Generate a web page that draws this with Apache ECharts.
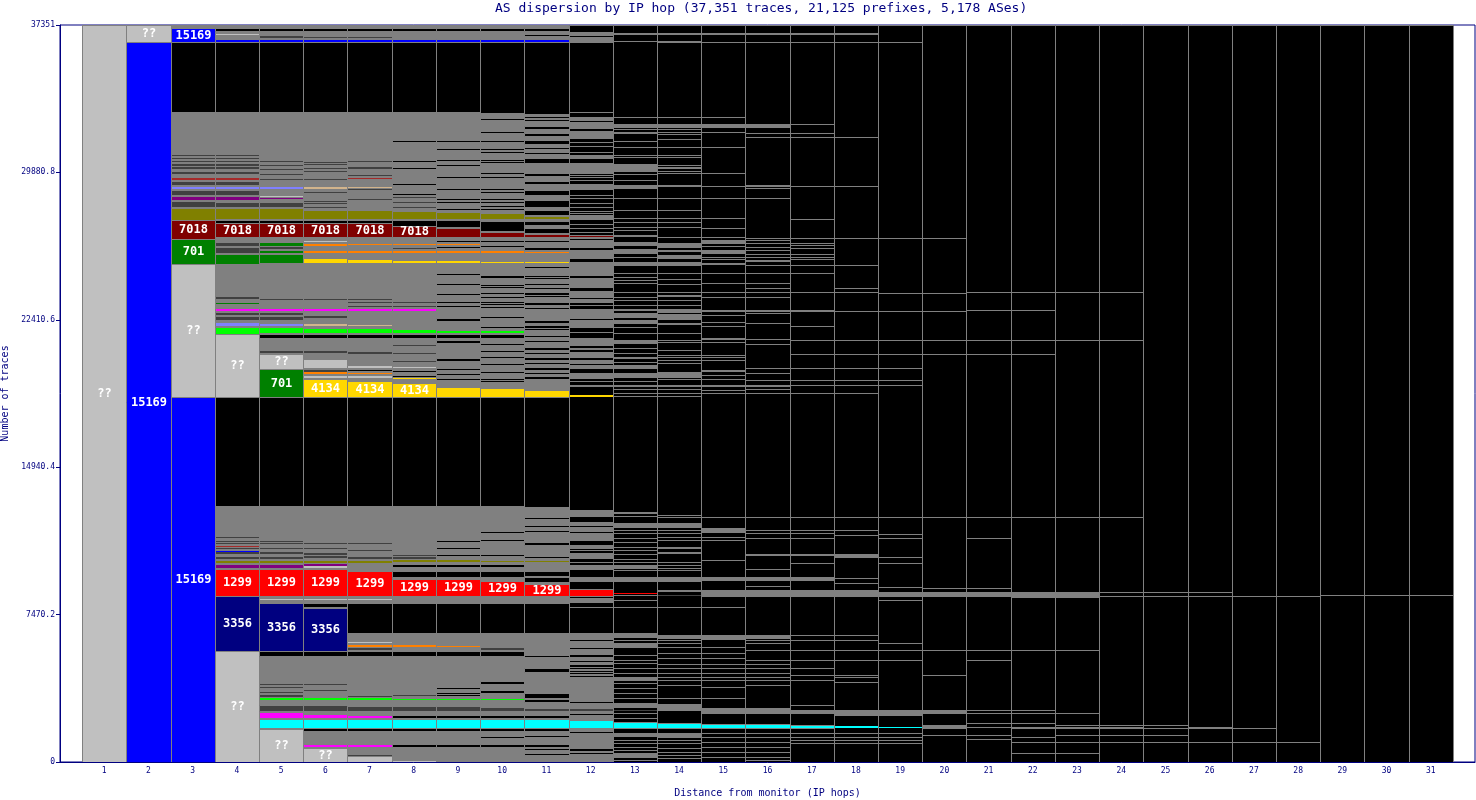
<!DOCTYPE html>
<html>
<head>
<meta charset="utf-8">
<title>AS dispersion by IP hop</title>
<script src="https://cdn.jsdelivr.net/npm/echarts@6/dist/echarts.min.js"></script>
<style>
  html, body { margin: 0; padding: 0; background: #fff; }
  #chart { width: 1476px; height: 800px; }
</style>
</head>
<body>
<div id="chart"></div>
<script>
// total traces, hop categories
const totalTraces = 37351;
const hops = [1, 2, 3, 4, 5, 6, 7, 8, 9, 10, 11, 12, 13, 14, 15, 16, 17, 18, 19, 20, 21, 22, 23, 24, 25, 26, 27, 28, 29, 30, 31];

// ASes that get a text label when their block is tall enough
const namedAs = ['??', '15169', '7018', '701', '1299', '3356', '4134'];

const groupColors = {
  '??': '#c0c0c0',
  '15169': '#0000ff',
  '7018': '#800000',
  '701': '#008000',
  '1299': '#ff0000',
  '3356': '#000080',
  '4134': '#ffd700',
  many: '#808080',
  dark: '#404040',
  end: '#000000',
  olive: '#808000',
  purple: '#800080',
  lime: '#00ff00',
  cyan: '#00ffff',
  magenta: '#ff00ff',
  orange: '#ff8000',
  peri: '#8080ff',
  tan: '#d2b48c',
  brown: '#a52a2a',
};

// per hop: [from traces, to traces, group]
const hop01 = [[0, 37351, '??']];
const hop02 = [[0, 36490, '15169'], [36490, 37351, '??']];
const hop03 = [
  [0, 18500, '15169'], [18500, 25240, '??'], [25240, 26500, '701'], [26500, 27470, '7018'], [27470, 28080, 'olive'],
  [28080, 32940, 'many'],
  [28140, 28450, 'dark'], [28480, 28690, 'purple'], [28740, 28990, 'dark'], [29040, 29190, 'peri'], [29240, 29460, 'dark'],
  [29500, 29650, 'brown'], [29800, 29970, 'dark'], [30050, 30150, 'dark'], [30200, 30300, 'dark'], [30410, 30460, 'dark'],
  [30560, 30610, 'dark'], [30710, 30760, 'dark'],
  [36490, 37200, '15169'], [37200, 37351, 'many'],
];
const hop04 = [
  [0, 5640, '??'], [5640, 8430, '3356'], [8430, 9780, '1299'],
  [9780, 12970, 'many'],
  [9830, 10030, 'purple'], [10090, 10250, 'olive'], [10300, 10440, 'dark'], [10540, 10640, 'dark'], [10670, 10710, '15169'],
  [10790, 10850, 'dark'], [10920, 10970, 'brown'], [11050, 11100, 'dark'], [11190, 11220, 'dark'], [11350, 11380, 'dark'],
  [18500, 21690, '??'],
  [21690, 25240, 'many'],
  [21690, 22060, 'lime'], [22110, 22300, 'peri'], [22400, 22600, 'dark'], [22650, 22810, 'dark'], [22880, 22940, 'magenta'],
  [23190, 23240, '701'], [23460, 23620, 'dark'],
  [25240, 25740, '701'],
  [25740, 32940, 'many'],
  [25810, 26110, 'dark'], [26160, 26370, 'dark'], [26590, 27330, '7018'], [27330, 27470, 'end'], [27520, 28090, 'olive'],
  [28140, 28400, 'dark'], [28480, 28690, 'purple'], [28740, 28990, 'dark'], [29040, 29190, 'peri'], [29240, 29440, 'dark'],
  [29500, 29650, 'brown'], [29800, 29970, 'dark'], [30050, 30150, 'dark'], [30200, 30300, 'dark'], [30410, 30460, 'dark'],
  [30560, 30610, 'dark'], [30710, 30760, 'dark'],
  [36490, 37351, 'many'], [36490, 36640, '15169'], [36860, 36910, '??'], [37060, 37200, 'end'],
];
const hop05 = [
  [0, 1670, '??'],
  [1670, 5380, 'many'],
  [1720, 2180, 'cyan'], [2250, 2530, 'magenta'], [2600, 2890, 'dark'], [3140, 3260, 'lime'], [3310, 3380, 'dark'],
  [3500, 3560, 'dark'], [3750, 3800, 'dark'], [3900, 3950, 'dark'],
  [5380, 5640, 'end'], [5640, 8060, '3356'],
  [8060, 12970, 'many'],
  [8200, 8250, '??'], [8430, 9780, '1299'], [9830, 10030, 'purple'], [10090, 10250, 'olive'], [10300, 10440, 'dark'],
  [10540, 10640, 'dark'], [10790, 10850, 'dark'], [11050, 11100, 'dark'], [11190, 11220, 'dark'],
  [18500, 19930, '701'], [19930, 20680, '??'],
  [20680, 25240, 'many'],
  [20730, 20830, 'dark'], [21500, 21700, 'end'], [21740, 22060, 'lime'], [22120, 22270, 'peri'], [22400, 22600, 'dark'],
  [22650, 22810, 'dark'], [22880, 22940, 'magenta'], [23440, 23490, 'dark'],
  [25240, 32940, 'many'],
  [25270, 25750, '701'], [25810, 25950, '701'], [26000, 26110, 'dark'], [26160, 26370, '701'], [26590, 27330, '7018'],
  [27330, 27470, 'end'], [27520, 28090, 'olive'], [28140, 28400, 'dark'], [28550, 28600, 'purple'], [28630, 28680, '??'],
  [29040, 29190, 'peri'], [29500, 29550, 'dark'], [29750, 29800, 'dark'], [30000, 30050, 'dark'], [30200, 30250, 'dark'],
  [30410, 30460, 'dark'],
  [36490, 37351, 'many'], [36490, 36640, '15169'], [36710, 36810, 'dark'], [37060, 37200, 'end'],
];
const hop06 = [
  [0, 730, '??'],
  [730, 5380, 'many'],
  [760, 910, 'magenta'], [1590, 1670, 'end'], [1720, 2180, 'cyan'], [2250, 2450, 'magenta'], [2600, 2890, 'dark'],
  [3140, 3260, 'lime'], [3600, 3650, 'dark'], [3900, 3950, 'dark'],
  [5380, 5640, 'end'], [5640, 7820, '3356'], [7840, 8060, 'end'],
  [8060, 12970, 'many'],
  [8200, 8270, '??'], [8430, 9780, '1299'], [9850, 9920, '??'], [9950, 10030, 'purple'], [10090, 10250, 'olive'],
  [10340, 10440, 'dark'], [10500, 10600, 'dark'], [10790, 10850, 'dark'], [11050, 11100, 'dark'],
  [18500, 19410, '4134'],
  [19410, 25240, 'many'],
  [19460, 19610, '??'], [19660, 19750, 'orange'], [19760, 19870, 'dark'], [19970, 20430, '??'], [20730, 20830, 'dark'],
  [21500, 21700, 'end'], [21740, 22010, 'lime'], [22100, 22200, 'tan'], [22510, 22580, 'dark'], [22880, 22940, 'magenta'],
  [23440, 23490, 'dark'],
  [25240, 32940, 'many'],
  [25270, 25540, '4134'], [25810, 25950, 'orange'], [26150, 26250, 'orange'], [26340, 26390, '??'], [26590, 27330, '7018'],
  [27330, 27470, 'end'], [27520, 27980, 'olive'], [28110, 28140, 'dark'], [28270, 28310, 'dark'], [28400, 28450, 'dark'],
  [28850, 28900, 'dark'], [29040, 29140, 'tan'], [29500, 29550, 'dark'], [29890, 29940, 'dark'], [30060, 30110, 'dark'],
  [30250, 30300, 'dark'], [30370, 30420, 'dark'],
  [36490, 37351, 'many'], [36490, 36640, '15169'], [36700, 36760, 'dark'], [37060, 37200, 'end'],
];
const hop07 = [
  [0, 320, '??'], [320, 400, 'dark'],
  [400, 5380, 'many'],
  [760, 910, 'magenta'], [1590, 1670, 'end'], [1720, 2180, 'cyan'], [2250, 2380, 'magenta'], [2600, 2840, 'dark'],
  [3140, 3260, 'lime'], [3300, 3350, 'dark'],
  [5380, 5640, 'end'],
  [5640, 6520, 'many'],
  [5680, 5790, 'dark'], [5830, 6000, 'orange'], [6050, 6100, '??'],
  [8060, 12970, 'many'],
  [8200, 8250, '??'], [8430, 9700, '1299'], [10090, 10250, 'olive'], [10300, 10390, 'dark'], [10690, 10740, 'dark'],
  [11050, 11100, 'dark'],
  [18500, 19310, '4134'],
  [19310, 25240, 'many'],
  [19460, 19560, '??'], [19660, 19730, 'orange'], [19810, 19870, 'end'], [19980, 20120, '??'], [20680, 20830, 'dark'],
  [21500, 21700, 'end'], [21740, 22010, 'lime'], [22100, 22150, 'tan'], [22880, 22940, 'magenta'], [23060, 23110, 'dark'],
  [23260, 23310, 'dark'], [23410, 23460, 'dark'],
  [25240, 32940, 'many'],
  [25270, 25490, '4134'], [25810, 25950, 'orange'], [26200, 26250, 'orange'], [26590, 27330, '7018'], [27330, 27470, 'end'],
  [27520, 27980, 'olive'], [28480, 28530, 'dark'], [28990, 29040, 'dark'], [29070, 29140, 'tan'], [29550, 29600, 'brown'],
  [29700, 29750, 'dark'], [30060, 30170, 'dark'], [30400, 30450, 'dark'],
  [36490, 37351, 'many'], [36490, 36640, '15169'], [36700, 36760, 'dark'], [37060, 37200, 'end'],
];
const hop08 = [
  [0, 100, '??'],
  [100, 5380, 'many'],
  [760, 910, 'end'], [1590, 1670, 'end'], [1720, 2180, 'cyan'], [2250, 2380, 'end'], [2600, 2840, 'dark'],
  [3140, 3190, 'lime'], [3330, 3380, 'dark'],
  [5380, 5640, 'end'],
  [5640, 6520, 'many'],
  [5830, 5930, 'orange'],
  [8060, 12970, 'many'],
  [8430, 9270, '1299'], [9390, 9680, 'end'], [9900, 9980, 'end'], [10120, 10220, 'olive'], [10300, 10390, 'dark'],
  [10440, 10490, 'dark'],
  [18500, 19220, '4134'],
  [19220, 25240, 'many'],
  [19410, 19460, '4134'], [19510, 19560, 'end'], [19760, 19810, 'end'], [19990, 20040, '??'], [20280, 20330, 'dark'],
  [20680, 20730, 'dark'], [21070, 21120, 'dark'], [21500, 21700, 'end'], [21740, 21960, 'lime'], [22880, 22940, 'magenta'],
  [23060, 23110, 'dark'], [23260, 23310, 'dark'],
  [25240, 32940, 'many'],
  [25270, 25440, '4134'], [25810, 25910, 'orange'], [26000, 26050, 'dark'], [26200, 26250, 'orange'], [26590, 27180, '7018'],
  [27180, 27470, 'end'], [27520, 27920, 'olive'], [28080, 28130, 'dark'], [28330, 28380, 'dark'], [28580, 28630, 'dark'],
  [28720, 28770, 'end'], [29250, 29300, 'end'], [30060, 30110, 'end'], [30410, 30460, 'end'], [31410, 31460, 'end'],
  [36490, 37351, 'many'], [36490, 36640, '15169'], [37060, 37200, 'end'],
];
const hop09 = [
  [0, 5380, 'many'],
  [760, 910, 'end'], [1590, 1670, 'end'], [1720, 2180, 'cyan'], [2250, 2380, 'end'], [2600, 2840, 'dark'],
  [3140, 3190, 'lime'], [3330, 3380, 'end'], [3450, 3500, 'end'], [3700, 3750, 'end'],
  [5380, 5640, 'end'],
  [5640, 6520, 'many'],
  [5830, 5900, 'orange'],
  [8060, 12970, 'many'],
  [8430, 9270, '1299'], [9390, 9680, 'end'], [9900, 9980, 'end'], [10120, 10220, 'olive'], [10440, 10490, 'end'],
  [10790, 10840, 'end'], [11150, 11200, 'end'],
  [18500, 19020, '4134'],
  [19020, 25240, 'many'],
  [19360, 19410, 'end'], [19610, 19660, 'end'], [19860, 19910, 'end'], [20330, 20480, 'end'], [21250, 21380, 'end'],
  [21500, 21700, 'end'], [21740, 21880, 'lime'], [22350, 22500, 'end'], [23060, 23110, 'end'], [23260, 23310, 'end'],
  [23670, 23720, 'end'], [24200, 24250, 'end'], [24700, 24750, 'end'],
  [25240, 32940, 'many'],
  [25270, 25390, '4134'], [25810, 25910, 'orange'], [26050, 26100, 'end'], [26200, 26250, 'orange'], [26350, 26400, 'end'],
  [26590, 27080, '7018'], [27110, 27470, 'end'], [27520, 27890, 'olive'], [27980, 28030, 'end'], [28330, 28380, 'end'],
  [28480, 28530, 'end'], [29000, 29050, 'end'], [29600, 29650, 'end'], [30200, 30250, 'end'], [30460, 30510, 'end'],
  [31040, 31090, 'end'], [31440, 31490, 'end'],
  [36490, 37351, 'many'], [36490, 36640, '15169'], [37060, 37200, 'end'],
];
const hop10 = [
  [0, 5380, 'many'],
  [760, 910, 'end'], [1230, 1280, 'end'], [1590, 1670, 'end'], [1720, 2180, 'cyan'], [2250, 2380, 'end'],
  [2600, 2790, 'dark'], [3140, 3190, 'lime'], [3500, 3650, 'end'], [3950, 4100, 'end'],
  [5380, 5640, 'end'],
  [5640, 6520, 'many'],
  [5680, 5760, 'dark'],
  [8060, 12970, 'many'],
  [8430, 9170, '1299'], [9390, 9680, 'end'], [9900, 9980, 'end'], [10120, 10200, 'olive'], [10440, 10490, 'end'],
  [11190, 11240, 'end'], [11610, 11660, 'end'],
  [18500, 18970, '4134'],
  [18970, 25240, 'many'],
  [19270, 19310, 'end'], [19360, 19410, 'end'], [19700, 19750, 'end'], [20120, 20170, 'end'], [20470, 20520, 'end'],
  [20790, 20840, 'end'], [21130, 21180, 'end'], [21500, 21700, 'end'], [21740, 21840, 'lime'], [22000, 22050, 'end'],
  [22500, 22550, 'end'], [22990, 23040, 'end'], [23140, 23190, 'end'], [23280, 23330, 'end'], [23500, 23550, 'end'],
  [23700, 23770, 'end'], [24010, 24060, 'end'], [24120, 24170, 'end'], [24520, 24570, 'end'], [24600, 24650, 'end'],
  [25240, 32940, 'many'],
  [25270, 25360, '4134'], [25810, 25880, 'orange'], [26110, 26160, 'end'], [26370, 26420, 'end'], [26590, 26880, '7018'],
  [26930, 27440, 'end'], [27520, 27810, 'olive'], [27980, 28030, 'end'], [28150, 28200, 'end'], [28310, 28360, 'end'],
  [28480, 28530, 'end'], [28820, 28870, 'end'], [28990, 29040, 'end'], [29580, 29630, 'end'], [29780, 29830, 'end'],
  [30340, 30390, 'end'], [30460, 30510, 'end'], [30850, 30900, 'end'], [31020, 31070, 'end'], [31440, 31490, 'end'],
  [31860, 31910, 'end'], [32540, 32590, 'end'], [32880, 32930, 'end'],
  [36490, 37351, 'many'], [36490, 36640, '15169'], [37060, 37200, 'end'],
];
const hop11 = [
  [0, 5410, 'many'],
  [350, 400, 'end'], [610, 660, 'end'], [760, 910, 'end'], [1250, 1300, 'end'], [1590, 1670, 'end'], [1720, 2180, 'cyan'],
  [2250, 2380, 'end'], [2600, 2700, 'dark'], [3060, 3190, 'end'], [3260, 3510, 'end'], [4580, 4750, 'end'], [5330, 5410, 'end'],
  [5410, 6520, 'many'],
  [8060, 12920, 'many'],
  [8430, 9040, '1299'], [9140, 9380, 'end'], [9420, 9680, 'end'], [10120, 10200, 'olive'], [10320, 10400, 'end'],
  [11000, 11160, 'end'], [11670, 11720, 'end'], [11930, 11980, 'end'], [12320, 12370, 'end'],
  [18500, 18850, '4134'],
  [18850, 25240, 'many'],
  [19410, 19530, 'end'], [19680, 19720, 'end'], [19870, 19970, 'end'], [20190, 20230, 'end'], [20370, 20460, 'end'],
  [20690, 20730, 'end'], [20880, 21050, 'end'], [21280, 21320, 'end'], [21540, 21580, 'end'], [21880, 21920, 'end'],
  [22010, 22100, 'end'], [22230, 22400, 'end'], [22970, 23010, 'end'], [23160, 23330, 'end'], [23560, 23600, 'end'],
  [23670, 23750, 'end'], [23990, 24030, 'end'], [24170, 24250, 'end'], [24490, 24530, 'end'], [24570, 24650, 'end'],
  [25050, 25090, 'end'],
  [25240, 32840, 'many'],
  [25270, 25340, '4134'], [25810, 25860, 'orange'], [25950, 26120, 'end'], [26350, 26390, 'end'], [26590, 26720, '7018'],
  [26790, 27050, 'end'], [27210, 27440, 'end'], [27520, 27600, 'olive'], [27720, 27980, 'end'], [28140, 28480, 'end'],
  [28740, 28990, 'end'], [29300, 29400, 'end'], [29700, 29800, 'end'], [30340, 30590, 'end'], [30800, 30850, 'end'],
  [31050, 31100, 'end'], [31300, 31520, 'end'], [31750, 31900, 'end'], [32100, 32250, 'end'], [32500, 32550, 'end'],
  [32650, 32700, 'end'],
  [36490, 37351, 'many'], [36490, 36640, '15169'], [36800, 36850, 'end'], [37060, 37200, 'end'],
];
const hop12 = [
  [0, 6520, 'many'],
  [410, 470, 'end'], [580, 640, 'end'], [920, 980, 'end'], [1090, 1140, 'end'], [1480, 1540, 'end'], [1710, 2130, 'cyan'],
  [2380, 2420, 'end'], [2600, 2690, 'dark'], [2980, 3040, 'end'], [3200, 3260, 'end'], [3450, 3510, 'end'], [3660, 3720, 'end'],
  [4290, 4350, 'end'], [4470, 4530, 'end'], [4550, 4610, 'end'], [4720, 4780, 'end'], [4830, 4910, 'end'], [5050, 5110, 'end'],
  [5340, 5400, 'end'], [5730, 5790, 'end'], [6150, 6200, 'end'],
  [8120, 8300, 'many'], [8430, 8770, '1299'], [9190, 9390, 'many'], [9770, 9980, 'many'], [10320, 10580, 'many'],
  [10830, 11000, 'many'], [11250, 11590, 'many'], [11720, 11930, 'many'], [12010, 12180, 'many'], [12470, 12770, 'many'],
  [18500, 18600, '4134'], [19020, 19110, 'many'], [19450, 19730, 'many'], [19950, 20120, 'many'], [20200, 20370, 'many'],
  [20540, 20790, 'many'], [20880, 20970, 'many'], [21130, 21470, 'many'], [21720, 21810, 'many'], [22060, 22400, 'many'],
  [22490, 22940, 'many'], [23330, 23450, 'many'], [23580, 23890, 'many'], [24090, 24510, 'many'], [24680, 25020, 'many'],
  [25100, 25360, 'many'], [25530, 25950, 'many'], [26110, 26460, 'many'], [26540, 26710, 'many'], [26600, 26650, '7018'],
  [27500, 27720, 'many'], [29030, 29290, 'many'], [29870, 30340, 'many'], [30590, 30760, 'many'], [30850, 30930, 'many'],
  [31150, 31220, 'many'], [31350, 31440, 'many'], [31610, 31860, 'many'], [31890, 31990, 'many'], [32120, 32450, 'many'],
  [32560, 32700, 'many'], [36470, 36630, 'many'],
];
const hop13 = [
  [36490, 36540, 'many'], [32200, 32330, 'many'], [30590, 30680, 'many'], [29970, 30310, 'many'], [29070, 29240, 'many'],
  [26590, 26710, 'many'], [26200, 26370, 'many'], [25780, 25990, 'many'], [25530, 25610, 'many'], [25190, 25360, 'many'],
  [22870, 22940, 'many'], [22570, 22740, 'many'], [22230, 22400, 'many'], [21220, 21390, 'many'], [19950, 20120, 'many'],
  [19500, 19730, 'many'], [19020, 19110, 'many'], [11930, 12100, 'many'], [9850, 9980, 'many'], [9190, 9390, 'many'],
  [8530, 8580, '1299'], [6350, 6520, 'many'], [5840, 6020, 'many'], [4160, 4320, 'many'], [2800, 2970, 'many'],
  [2620, 2660, 'dark'], [1710, 2040, 'cyan'], [1320, 1490, 'many'], [270, 440, 'many'],
];
const hop14 = [
  [36460, 36560, 'many'], [32200, 32330, 'many'], [29160, 29240, 'many'], [26570, 26620, 'many'], [26120, 26290, 'many'],
  [25860, 25950, 'many'], [25530, 25700, 'many'], [25190, 25360, 'many'], [24730, 24800, 'many'], [22820, 22940, 'many'],
  [22570, 22700, 'many'], [22400, 22480, 'many'], [22140, 22230, 'many'], [21220, 21300, 'many'], [19500, 19780, 'many'],
  [19020, 19110, 'many'], [18500, 18550, 'many'], [11930, 12100, 'many'], [9190, 9360, 'many'], [8620, 8720, 'many'],
  [8440, 8480, 'dark'], [6270, 6440, 'many'], [2640, 2940, 'many'], [1710, 1990, 'cyan'], [1280, 1490, 'many'],
];
const hop15 = [
  [32200, 32330, 'many'], [26570, 26620, 'many'], [26320, 26460, 'many'], [25780, 25950, 'many'], [25190, 25270, 'many'],
  [24730, 24800, 'many'], [23750, 23830, 'many'], [22820, 22910, 'many'], [21390, 21470, 'many'], [19780, 19870, 'many'],
  [19020, 19110, 'many'], [11670, 11840, 'many'], [9220, 9390, 'many'], [8400, 8720, 'many'], [6220, 6440, 'many'],
  [2470, 2720, 'many'], [1710, 1930, 'cyan'],
];
const hop16 = [
  [32200, 32330, 'many'], [29160, 29240, 'many'], [26250, 26320, 'many'], [25360, 25440, 'many'], [24730, 24800, 'many'],
  [23750, 23830, 'many'], [22820, 22910, 'many'], [19020, 19110, 'many'], [10440, 10540, 'many'], [9220, 9360, 'many'],
  [8400, 8720, 'many'], [6270, 6440, 'many'], [2470, 2720, 'many'], [1710, 1930, 'cyan'],
];
const hop17 = [
  [23750, 23830, 'many'], [22820, 22910, 'many'], [10440, 10540, 'many'], [9220, 9360, 'many'], [8400, 8720, 'many'],
  [2470, 2640, 'many'], [1710, 1880, 'cyan'],
];
const hop18 = [
  [23750, 23830, 'many'], [10400, 10540, 'many'], [8400, 8720, 'many'], [2380, 2640, 'many'], [1710, 1830, 'cyan'],
];
const hop19 = [[8800, 8880, 'many'], [8400, 8630, 'many'], [2380, 2640, 'many'], [1710, 1790, 'cyan']];
const hop20 = [[8400, 8630, 'many'], [2470, 2640, 'many'], [1710, 1880, 'many']];
const hop21 = [[8400, 8630, 'many']];
const hop22 = [[8380, 8630, 'many'], [1670, 1760, 'many']];
const hop23 = [[8380, 8630, 'many'], [1670, 1760, 'many']];
const hop24 = [[1670, 1760, 'many']];
const hop26 = [[1670, 1760, 'many']];

// single boundaries between small groups, per hop (traces)
const cut12 = [950, 1115, 3010, 3230, 3480, 3690, 7870, 10150, 10740, 19320, 23160, 26880, 27050, 27270, 27810, 27940,
  28140, 28310, 28570, 28740, 29500, 29630, 29750, 32930, 36710, 36760, 36850, 36900, 36930, 36980];
const cut13 = [36930, 36870, 32670, 32100, 31930, 31860, 31490, 31180, 30760, 29800, 29500, 28570, 27980, 27550, 27380,
  27130, 26960, 24800, 24590, 24430, 24290, 23830, 23580, 23420, 23160, 22060, 21720, 20970, 20710, 20540, 20460, 20290,
  19320, 18890, 18690, 18550, 12690, 12600, 12470, 11760, 11590, 11340, 11170, 10910, 10740, 10540, 10270, 10150, 9750,
  8460, 8210, 7870, 6180, 5420, 5170, 5000, 4780, 4530, 3990, 3740, 3480, 3230, 2470, 2210, 1110, 950, 780, 610, 100];
const cut14 = [36930, 36870, 32670, 32100, 31930, 31810, 31560, 31180, 30760, 30640, 30260, 30170, 30090, 29970, 29870,
  28570, 27980, 27550, 27380, 27130, 24460, 24220, 23830, 23670, 23620, 23420, 23160, 21720, 21390, 20880, 20630, 20540,
  20370, 20200, 19410, 18890, 18690, 12520, 12400, 11760, 11590, 11420, 11250, 10910, 10830, 10660, 10570, 10150, 9980,
  9850, 9730, 7870, 6180, 6020, 5840, 5510, 5260, 4970, 4750, 4530, 4320, 4160, 3900, 3230, 1110, 950, 690, 520, 350, 190];
const cut15 = [36930, 36870, 36490, 32670, 31930, 31150, 29830, 29190, 28570, 27550, 27080, 26150, 25610, 25480, 24290,
  23550, 22650, 22290, 22100, 21300, 20630, 20540, 20370, 19610, 19400, 18850, 18690, 12400, 11420, 11250, 10240, 7870,
  5840, 5510, 5260, 4970, 4750, 4530, 4320, 4160, 3820, 3230, 1490, 1280, 1030, 780, 520, 270];
const cut16 = [36930, 36870, 36490, 31860, 31660, 29070, 28570, 26540, 26460, 26120, 25950, 25740, 25610, 25190, 24290,
  24010, 23580, 23550, 22740, 22230, 21420, 21180, 19950, 19700, 19360, 18890, 18690, 12400, 11760, 11590, 11340, 9800,
  8920, 6180, 6020, 5680, 5170, 4970, 4750, 4530, 4320, 4160, 3900, 1450, 1280, 1030, 780, 520, 270, 100];
const cut17 = [36930, 36870, 36490, 32330, 31860, 31660, 29190, 27500, 26540, 26320, 26200, 26030, 25740, 25610, 25480,
  25190, 24800, 22100, 21390, 20680, 19950, 19360, 19110, 18690, 12400, 11760, 11590, 11340, 10070, 6440, 6180, 5680,
  5170, 4750, 4410, 4160, 2890, 1450, 1280, 1110, 950];
const cut18 = [36930, 36870, 36490, 31660, 29190, 26540, 25190, 24010, 22870, 21390, 20680, 19950, 19360, 19110, 18690,
  12400, 11760, 11500, 9310, 9060, 6440, 6180, 5680, 5170, 4410, 4320, 4070, 1450, 1280, 1110, 950];
const cut19 = [36490, 26540, 23780, 22870, 21390, 20680, 19950, 19360, 19110, 12400, 11550, 11340, 10400, 10100, 8210,
  6020, 5680, 5170, 1450, 1280, 1110, 950];
const cut20 = [26540, 23780, 22870, 21390, 20680, 12400, 8800, 5680, 4410, 1370];
const cut21 = [23800, 22890, 21370, 20670, 12400, 11340, 8800, 5680, 5170, 2640, 2470, 1960, 1790, 1370, 1150];
const cut22 = [23800, 22890, 21370, 20670, 12400, 5680, 2640, 2470, 1960, 1280, 1030, 440];
const cut23 = [23800, 21370, 12400, 5680, 2470, 1880, 1370, 1030, 440];
const cut24 = [23800, 21370, 12400, 8630, 8430, 1880, 1370, 1030];
const cut25 = [8630, 8430, 1880, 1710, 1370, 1030];
const cut26 = [8630, 8430, 1030];
const cut27 = [8430, 1710, 1030];
const cut28 = [8430, 1030];
const cut29 = [8460];
const cut30 = [8460];
const cut31 = [8460];

const blockSets = [hop01, hop02, hop03, hop04, hop05, hop06, hop07, hop08, hop09, hop10, hop11, hop12, hop13, hop14,
  hop15, hop16, hop17, hop18, hop19, hop20, hop21, hop22, hop23, hop24, [], hop26, [], [], [], [], []];
const cutSets = [[], [], [], [], [], [], [], [], [], [], [], cut12, cut13, cut14, cut15, cut16, cut17, cut18, cut19,
  cut20, cut21, cut22, cut23, cut24, cut25, cut26, cut27, cut28, cut29, cut30, cut31];

const rectData = [];
const rectGroups = [];
hops.forEach((hop, i) => {
  rectData.push([hop, 0, totalTraces]);
  rectGroups.push('end');
  blockSets[i].forEach(([lo, hi, g]) => {
    rectData.push([hop, lo, hi]);
    rectGroups.push(g);
  });
});
const cutData = [];
hops.forEach((hop, i) => cutSets[i].forEach((v) => cutData.push([hop, v])));

const navy = '#000080';
const monoFont = '"DejaVu Sans Mono", monospace';

function renderBlock(params, api) {
  const hop = api.value(0);
  const a = api.coord([hop - 0.5, api.value(2)]);
  const b = api.coord([hop + 0.5, api.value(1)]);
  const x0 = Math.round(a[0]);
  const x1 = Math.round(b[0]);
  const y0 = Math.round(a[1]);
  const h = Math.max(Math.round(b[1]) - y0, 1);
  const g = rectGroups[params.dataIndex];
  const thin = h <= 2;
  const el = {
    type: 'rect',
    shape: thin
      ? { x: x0 + 1, y: y0, width: x1 - x0 - 1, height: h }
      : { x: x0 + 0.5, y: y0 + 0.5, width: x1 - x0, height: h },
    style: { fill: groupColors[g], stroke: thin ? null : '#808080', lineWidth: 1 },
  };
  if (namedAs.includes(g) && h >= 11) {
    el.textContent = {
      style: { text: g, fill: '#fff', font: 'bold 12px ' + monoFont },
    };
    el.textConfig = { position: 'inside' };
  }
  return el;
}

function renderCut(params, api) {
  const hop = api.value(0);
  const a = api.coord([hop - 0.5, api.value(1)]);
  const b = api.coord([hop + 0.5, api.value(1)]);
  const y = Math.round(a[1]) + 0.5;
  return {
    type: 'line',
    shape: { x1: Math.round(a[0]), y1: y, x2: Math.round(b[0]), y2: y },
    style: { stroke: '#808080', lineWidth: 1 },
  };
}

const chart = echarts.init(document.getElementById('chart'));
chart.setOption({
  animation: false,
  backgroundColor: '#fff',
  title: {
    text: 'AS dispersion by IP hop (37,351 traces, 21,125 prefixes, 5,178 ASes)',
    left: 495,
    top: 2,
    padding: 0,
    textStyle: { color: navy, fontSize: 13, fontWeight: 'normal', fontFamily: monoFont },
  },
  grid: {
    left: 60,
    right: 1,
    top: 25,
    bottom: 38,
    containLabel: false,
    outerBoundsMode: 'none',
    show: true,
    borderColor: navy,
    borderWidth: 1,
    backgroundColor: '#fff',
  },
  xAxis: {
    type: 'value',
    min: 0,
    max: 32,
    interval: 1,
    name: 'Distance from monitor (IP hops)',
    nameLocation: 'middle',
    nameGap: 26,
    nameTextStyle: { color: navy, fontSize: 10, fontFamily: monoFont },
    axisLine: { lineStyle: { color: navy } },
    axisTick: { show: false },
    splitLine: { show: false },
    axisLabel: {
      color: navy,
      fontSize: 8,
      fontFamily: monoFont,
      margin: 5,
      formatter: (v) => (v >= 1 && v <= 31 ? String(v) : ''),
    },
  },
  yAxis: {
    type: 'value',
    min: 0,
    max: totalTraces,
    interval: totalTraces / 5,
    name: 'Number of traces',
    nameLocation: 'middle',
    nameGap: 44,
    nameRotate: 90,
    nameTextStyle: { color: navy, fontSize: 10, fontFamily: monoFont },
    axisLine: { show: true, lineStyle: { color: navy } },
    axisTick: { show: true, length: 4, lineStyle: { color: navy } },
    splitLine: { show: false },
    axisLabel: {
      color: navy,
      fontSize: 8,
      fontFamily: monoFont,
      margin: 5,
      formatter: (v) => String(Math.round(v * 10) / 10),
    },
  },
  series: [
    {
      type: 'custom',
      renderItem: renderBlock,
      data: rectData,
      encode: { x: 0, y: [1, 2] },
      clip: true,
      silent: true,
    },
    {
      type: 'custom',
      renderItem: renderCut,
      data: cutData,
      encode: { x: 0, y: 1 },
      clip: true,
      silent: true,
      z: 3,
    },
  ],
});
</script>
</body>
</html>
